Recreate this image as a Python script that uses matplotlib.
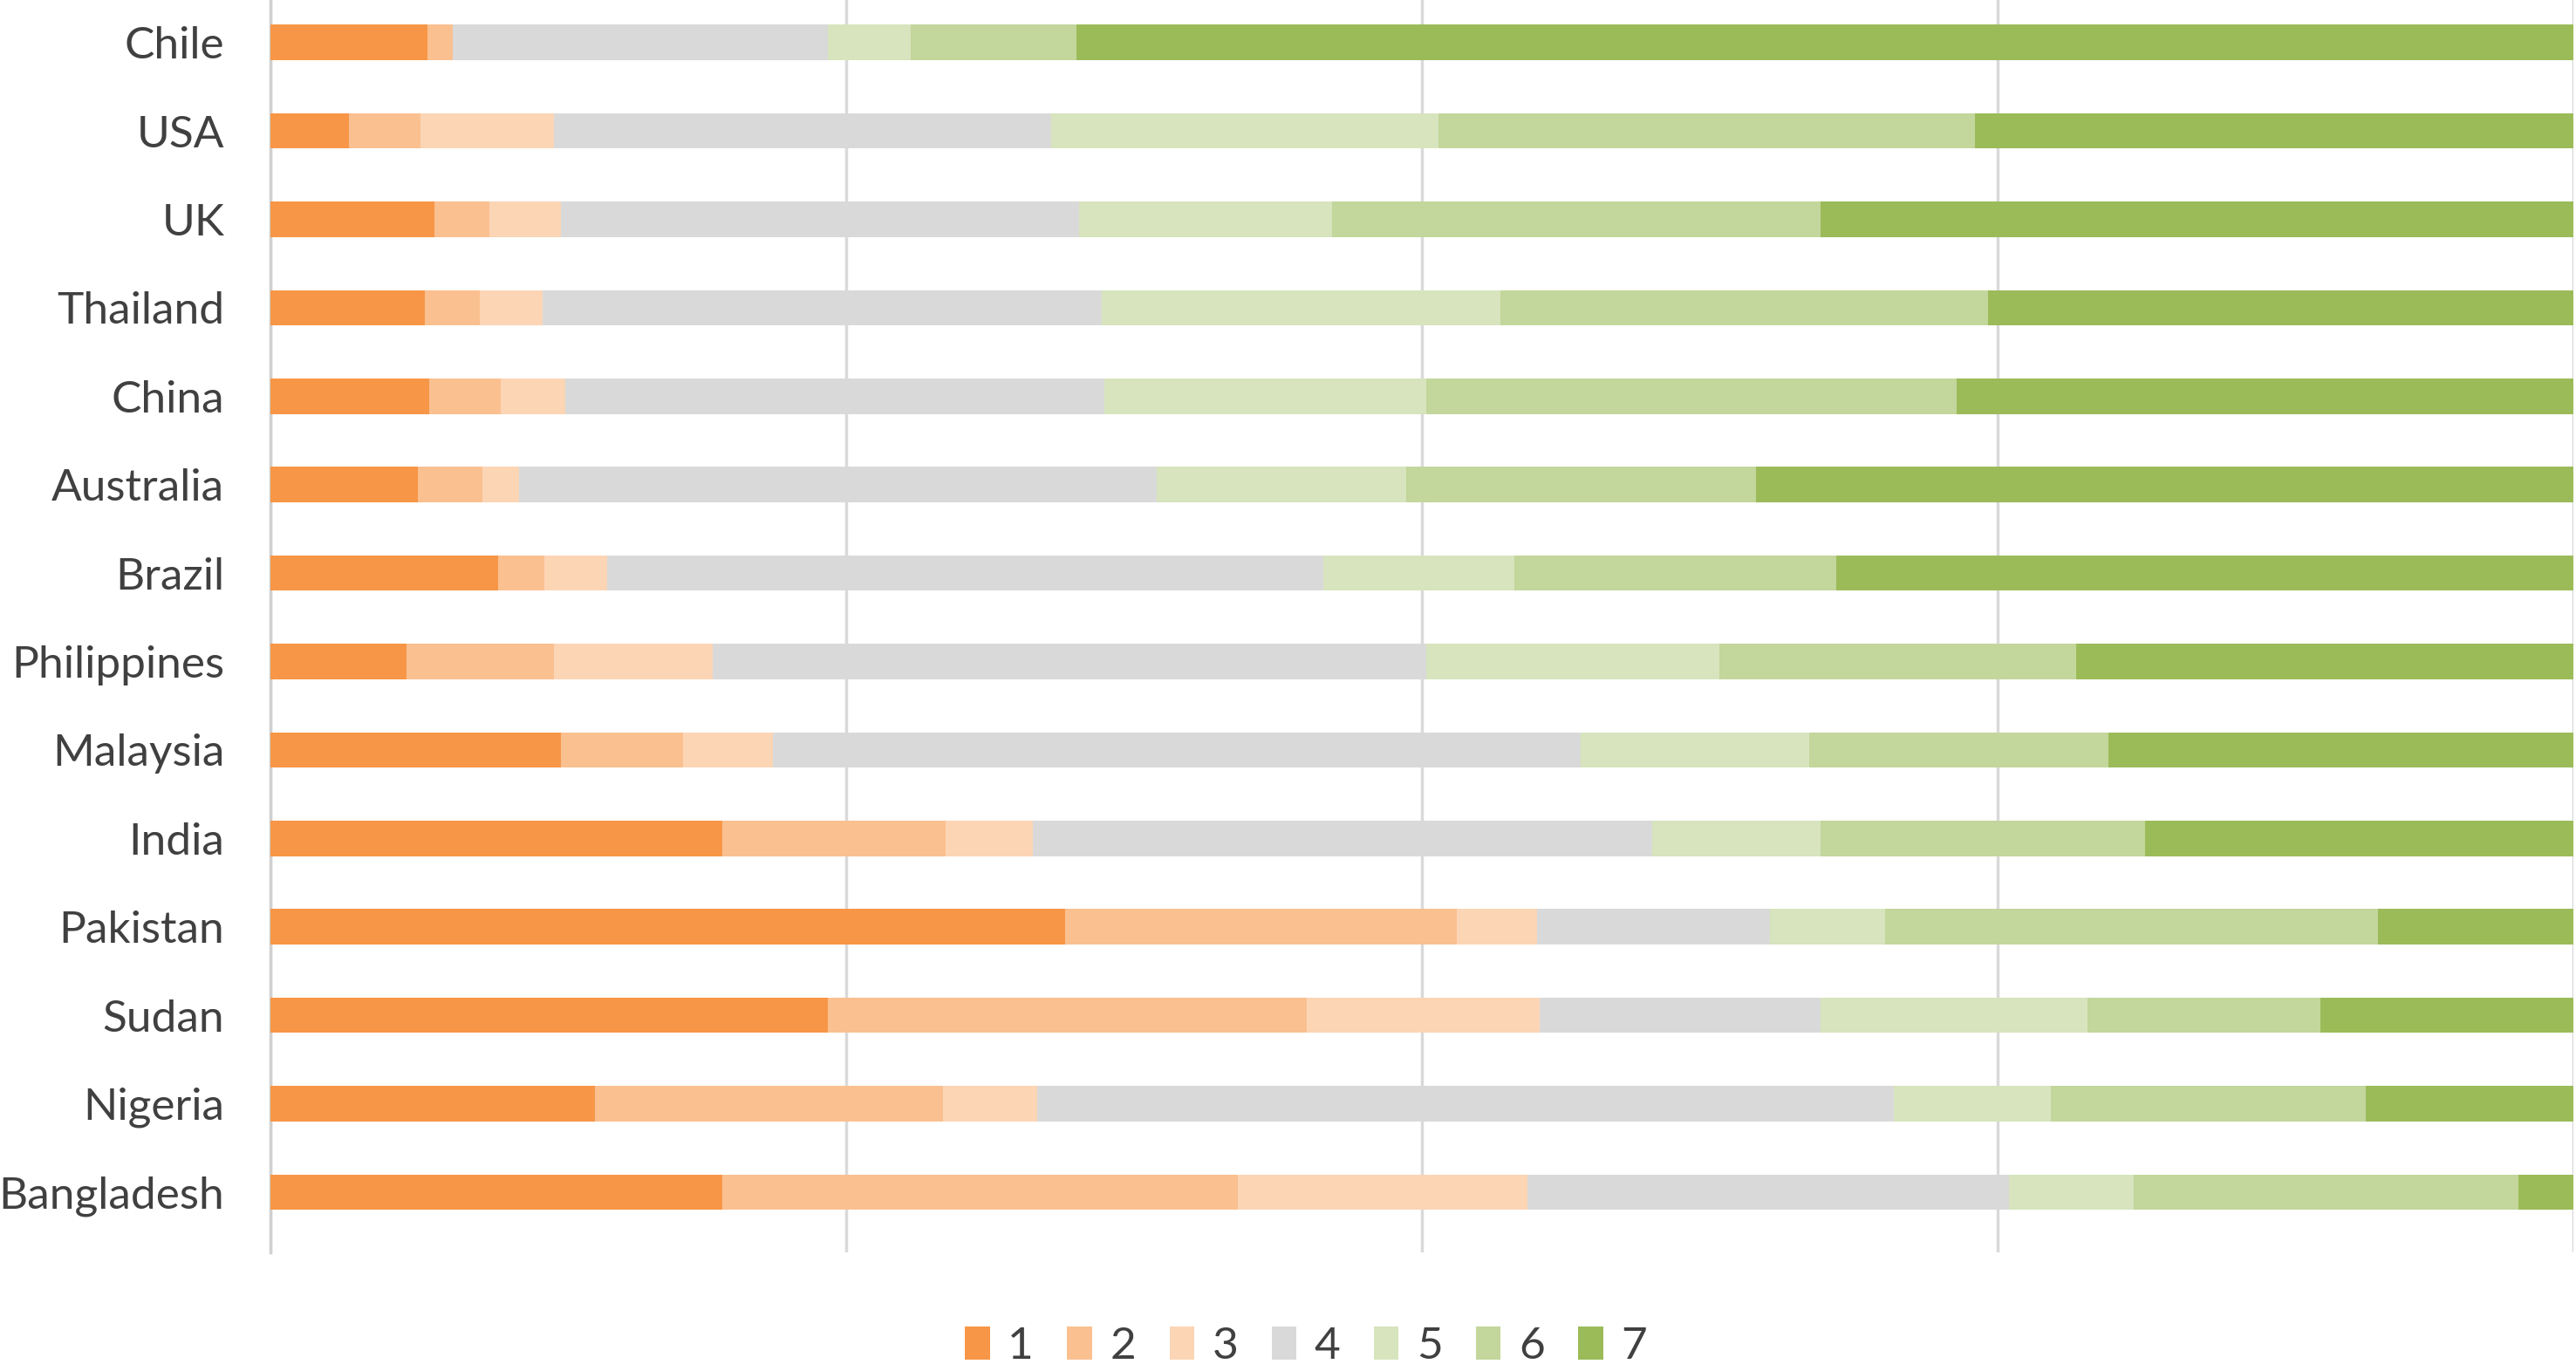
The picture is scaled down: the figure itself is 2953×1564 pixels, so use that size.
import matplotlib.pyplot as plt
import numpy as np

countries = ["Chile", "USA", "UK", "Thailand", "China", "Australia", "Brazil",
             "Philippines", "Malaysia", "India", "Pakistan", "Sudan", "Nigeria", "Bangladesh"]

# share of answers per level (percent)
s1 = [6.8, 3.4, 7.1, 6.7, 6.9, 6.4, 9.9, 5.9, 12.6, 19.6, 34.5, 24.2, 14.1, 19.6]
s2 = [1.1, 3.1, 2.4, 2.4, 3.1, 2.8, 2.0, 6.4, 5.3, 9.7, 17.0, 20.8, 15.1, 22.4]
s3 = [0.0, 5.8, 3.1, 2.7, 2.8, 1.6, 2.7, 6.9, 3.9, 3.8, 3.5, 10.1, 4.1, 12.6]
s4 = [16.3, 21.6, 22.5, 24.3, 23.4, 27.7, 31.1, 31.0, 35.1, 26.9, 10.1, 12.2, 37.2, 20.9]
s5 = [3.6, 16.8, 11.0, 17.3, 14.0, 10.8, 8.3, 12.7, 9.9, 7.3, 5.0, 11.6, 6.8, 5.4]
s6 = [7.2, 23.3, 21.2, 21.2, 23.0, 15.2, 14.0, 15.5, 13.0, 14.1, 21.4, 10.1, 13.7, 16.7]
s7 = [65.0, 26.0, 32.7, 25.4, 26.8, 35.5, 32.0, 21.6, 20.2, 18.6, 8.5, 11.0, 9.0, 2.4]

levels = ["1", "2", "3", "4", "5", "6", "7"]
colors = ["#F79646", "#FAC090", "#FCD5B5", "#D9D9D9", "#D7E4BD", "#C3D69B", "#9BBB59"]

series = [s1, s2, s3, s4, s5, s6, s7]

fig = plt.figure(figsize=(29.53, 15.64), dpi=100)
ax = fig.add_axes([0.105, 0.082, 0.894, 0.918])

y = np.arange(len(countries))
left = np.zeros(len(countries))
for vals, lab, col in zip(series, levels, colors):
    vals = np.array(vals)
    ax.barh(y, vals, left=left, height=0.4, color=col, label=lab, zorder=3)
    left += vals

ax.set_xlim(0, left.max())
ax.set_ylim(13.68, -0.48)
ax.set_xticks(np.linspace(0, left.max(), 5))
ax.set_xticklabels([])
ax.tick_params(axis="x", length=0)
ax.tick_params(axis="y", length=0, pad=38)
ax.set_yticks(y)
ax.set_yticklabels(countries, fontsize=37, color="#404040", family="Lato")
ax.grid(axis="x", color="#D9D9D9", linewidth=2.5, zorder=0)
for sp in ["top", "right", "bottom"]:
    ax.spines[sp].set_visible(False)
ax.spines["left"].set_color("#D0D0D0")
ax.spines["left"].set_linewidth(2.5)

fig.legend(loc="center", bbox_to_anchor=(0.507, 0.013), ncol=7, frameon=False,
           prop={"family": "Lato", "size": 37}, labelcolor="#404040",
           handlelength=0.55, handleheight=0.75, handletextpad=0.4, columnspacing=0.75)

fig.savefig("out.png", dpi=100)
